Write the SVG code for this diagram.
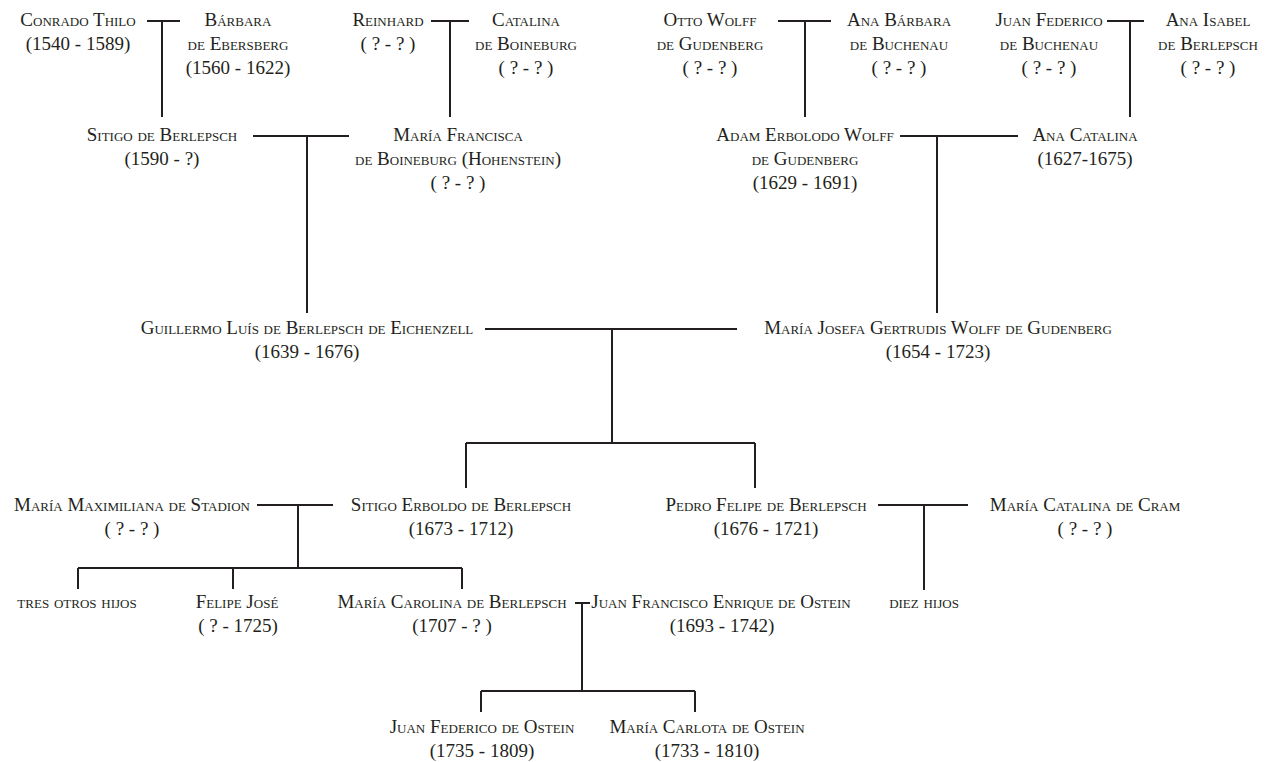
<svg xmlns="http://www.w3.org/2000/svg" width="1277" height="762" viewBox="0 0 1277 762">
<style>
text{font-family:"Liberation Serif","Times New Roman",serif;font-size:19px;font-variant:small-caps;text-anchor:middle;fill:#231f20}
#connectors path{fill:none;stroke:#231f20;stroke-width:2}
</style>
<rect width="1277" height="762" fill="#fff"/>
<g id="connectors">
<path d="M147 21H180M162 21V117"/>
<path d="M431 21H469M450 21V117"/>
<path d="M778 21H831M805 21V117"/>
<path d="M1107 21H1144M1130 21V117"/>
<path d="M253 136H349M307 136V313"/>
<path d="M900 136H1018M937 136V313"/>
<path d="M485 329H737M612 329V443M466 443H755M466 443V488M755 443V488"/>
<path d="M257 505H333M298 505V568M78 568H462M78 568V589M233 568V589M462 568V589"/>
<path d="M878 505H968M924 505V590"/>
<path d="M575 603H590M582 603V691M481 691H695M481 691V712M695 691V712"/>
</g>
<g id="conrado"><text x="78" y="26">Conrado Thilo<tspan x="78" dy="24">(1540 - 1589)</tspan></text></g>
<g id="barbara"><text x="238" y="26">Bárbara<tspan x="238" dy="24">de Ebersberg</tspan><tspan x="238" dy="24">(1560 - 1622)</tspan></text></g>
<g id="reinhard"><text x="388" y="26">Reinhard<tspan x="388" dy="24">( ? - ? )</tspan></text></g>
<g id="catalina"><text x="526" y="26">Catalina<tspan x="526" dy="24">de Boineburg</tspan><tspan x="526" dy="24">( ? - ? )</tspan></text></g>
<g id="otto"><text x="710" y="26">Otto Wolff<tspan x="710" dy="24">de Gudenberg</tspan><tspan x="710" dy="24">( ? - ? )</tspan></text></g>
<g id="anabarbara"><text x="899" y="26">Ana Bárbara<tspan x="899" dy="24">de Buchenau</tspan><tspan x="899" dy="24">( ? - ? )</tspan></text></g>
<g id="juanfederico"><text x="1049" y="26">Juan Federico<tspan x="1049" dy="24">de Buchenau</tspan><tspan x="1049" dy="24">( ? - ? )</tspan></text></g>
<g id="anaisabel"><text x="1208" y="26">Ana Isabel<tspan x="1208" dy="24">de Berlepsch</tspan><tspan x="1208" dy="24">( ? - ? )</tspan></text></g>
<g id="sitigo"><text x="162" y="141">Sitigo de Berlepsch<tspan x="162" dy="24">(1590 - ?)</tspan></text></g>
<g id="mariafrancisca"><text x="458" y="141">María Francisca<tspan x="458" dy="24">de Boineburg (Hohenstein)</tspan><tspan x="458" dy="24">( ? - ? )</tspan></text></g>
<g id="adam"><text x="805" y="141">Adam Erbolodo Wolff<tspan x="805" dy="24">de Gudenberg</tspan><tspan x="805" dy="24">(1629 - 1691)</tspan></text></g>
<g id="anacatalina"><text x="1085" y="141">Ana Catalina<tspan x="1085" dy="24">(1627-1675)</tspan></text></g>
<g id="guillermo"><text x="307" y="334">Guillermo Luís de Berlepsch de Eichenzell<tspan x="307" dy="24">(1639 - 1676)</tspan></text></g>
<g id="mariajosefa"><text x="938" y="334">María Josefa Gertrudis Wolff de Gudenberg<tspan x="938" dy="24">(1654 - 1723)</tspan></text></g>
<g id="mariamaximiliana"><text x="132" y="511">María Maximiliana de Stadion<tspan x="132" dy="24">( ? - ? )</tspan></text></g>
<g id="sitigoerboldo"><text x="461" y="511">Sitigo Erboldo de Berlepsch<tspan x="461" dy="24">(1673 - 1712)</tspan></text></g>
<g id="pedrofelipe"><text x="766" y="511">Pedro Felipe de Berlepsch<tspan x="766" dy="24">(1676 - 1721)</tspan></text></g>
<g id="mariacatalina"><text x="1085" y="511">María Catalina de Cram<tspan x="1085" dy="24">( ? - ? )</tspan></text></g>
<g id="tresotros"><text x="77" y="608">tres otros hijos</text></g>
<g id="felipejose"><text x="237" y="608">Felipe José<tspan x="238" dy="24">( ? - 1725)</tspan></text></g>
<g id="mariacarolina"><text x="452" y="608">María Carolina de Berlepsch<tspan x="452" dy="24">(1707 - ? )</tspan></text></g>
<g id="juanfrancisco"><text x="721" y="608">Juan Francisco Enrique de Ostein<tspan x="722" dy="24">(1693 - 1742)</tspan></text></g>
<g id="diezhijos"><text x="924" y="608">diez hijos</text></g>
<g id="juanfedericoostein"><text x="482" y="733">Juan Federico de Ostein<tspan x="482" dy="24">(1735 - 1809)</tspan></text></g>
<g id="mariacarlota"><text x="707" y="733">María Carlota de Ostein<tspan x="707" dy="24">(1733 - 1810)</tspan></text></g>
</svg>
